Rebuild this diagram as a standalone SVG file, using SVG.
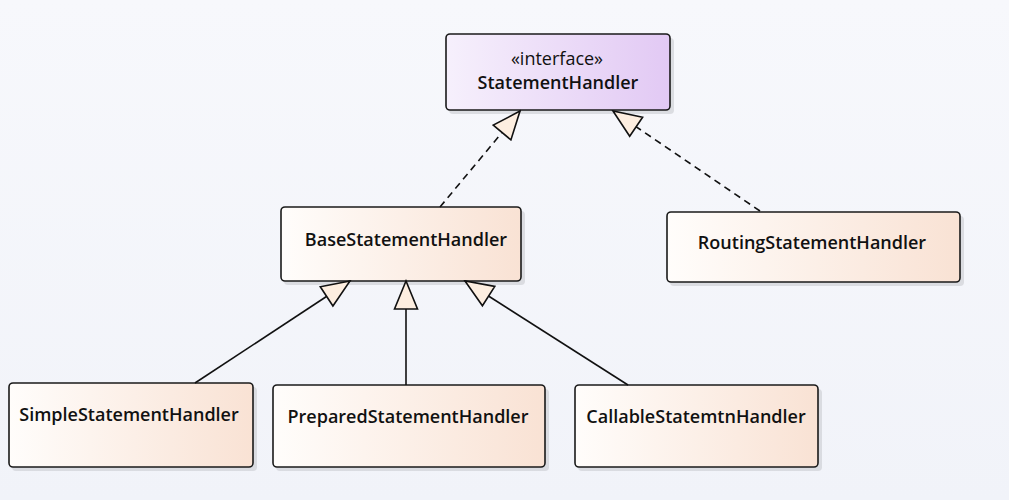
<svg xmlns="http://www.w3.org/2000/svg" width="1009" height="500" viewBox="0 0 1009 500">
<defs>
<linearGradient id="gClass" x1="0" y1="0" x2="1" y2="0">
<stop offset="0" stop-color="#fffdfb"/>
<stop offset="1" stop-color="#f9e2d4"/>
</linearGradient>
<linearGradient id="gIface" x1="0" y1="0" x2="1" y2="0">
<stop offset="0" stop-color="#f6f0fc"/>
<stop offset="1" stop-color="#e2c9f4"/>
</linearGradient>
<linearGradient id="gBg" x1="0" y1="0" x2="0" y2="1">
<stop offset="0" stop-color="#f7f8fc"/>
<stop offset="1" stop-color="#f1f3f9"/>
</linearGradient>
<marker id="tri" viewBox="-30 -13 32 26" refX="0" refY="0" markerWidth="32" markerHeight="26" markerUnits="userSpaceOnUse" orient="auto">
<path d="M0,0 L-28,-11.5 L-28,11.5 Z" fill="#fdeee0" stroke="#111" stroke-width="1.6" stroke-linejoin="miter"/>
</marker>
</defs>
<style>
.box{stroke:#1a1a1a;stroke-width:1.6;}
.shadow{fill:#c9cbd1;opacity:0.6;}
.lbl{font-family:"Open Sans","Noto Sans","DejaVu Sans",sans-serif;font-size:18px;font-weight:600;fill:#111;text-anchor:middle;}
.ster{font-family:"Open Sans","Noto Sans","DejaVu Sans",sans-serif;font-size:18px;font-weight:400;fill:#111;text-anchor:middle;}
.conn{stroke:#111;stroke-width:1.6;fill:none;}
.dash{stroke-dasharray:7,5;}
</style>
<rect x="0" y="0" width="1009" height="500" fill="url(#gBg)"/>

<g id="StatementHandler">
<rect class="shadow" x="449" y="38" width="225" height="76" rx="4"/>
<rect class="box" x="446" y="34" width="224" height="76" rx="4" fill="url(#gIface)"/>
<text class="ster" x="557" y="65">«interface»</text>
<text class="lbl" x="558" y="89">StatementHandler</text>
</g>

<g id="BaseStatementHandler">
<rect class="shadow" x="284" y="211" width="241" height="74" rx="4"/>
<rect class="box" x="281" y="207" width="240" height="74" rx="4" fill="url(#gClass)"/>
<text class="lbl" x="406" y="246">BaseStatementHandler</text>
</g>

<g id="RoutingStatementHandler">
<rect class="shadow" x="670" y="216" width="294" height="70" rx="4"/>
<rect class="box" x="667" y="212" width="293" height="70" rx="4" fill="url(#gClass)"/>
<text class="lbl" x="812" y="249">RoutingStatementHandler</text>
</g>

<g id="SimpleStatementHandler">
<rect class="shadow" x="12" y="387" width="245" height="84" rx="4"/>
<rect class="box" x="9" y="383" width="244" height="84" rx="4" fill="url(#gClass)"/>
<text class="lbl" x="129" y="421">SimpleStatementHandler</text>
</g>

<g id="PreparedStatementHandler">
<rect class="shadow" x="276" y="389" width="273" height="82" rx="4"/>
<rect class="box" x="273" y="385" width="272" height="82" rx="4" fill="url(#gClass)"/>
<text class="lbl" x="408" y="423">PreparedStatementHandler</text>
</g>

<g id="CallableStatemtnHandler">
<rect class="shadow" x="578" y="389" width="244" height="82" rx="4"/>
<rect class="box" x="575" y="385" width="243" height="82" rx="4" fill="url(#gClass)"/>
<text class="lbl" x="696" y="423">CallableStatemtnHandler</text>
</g>

<g id="connectors">
<line class="conn dash" x1="440" y1="207" x2="520" y2="111" marker-end="url(#tri)"/>
<line class="conn dash" x1="760" y1="211" x2="613" y2="111" marker-end="url(#tri)"/>
<line class="conn" x1="195" y1="383" x2="350" y2="281" marker-end="url(#tri)"/>
<line class="conn" x1="406" y1="385" x2="406" y2="281" marker-end="url(#tri)"/>
<line class="conn" x1="628" y1="385" x2="465" y2="281" marker-end="url(#tri)"/>
</g>
</svg>
